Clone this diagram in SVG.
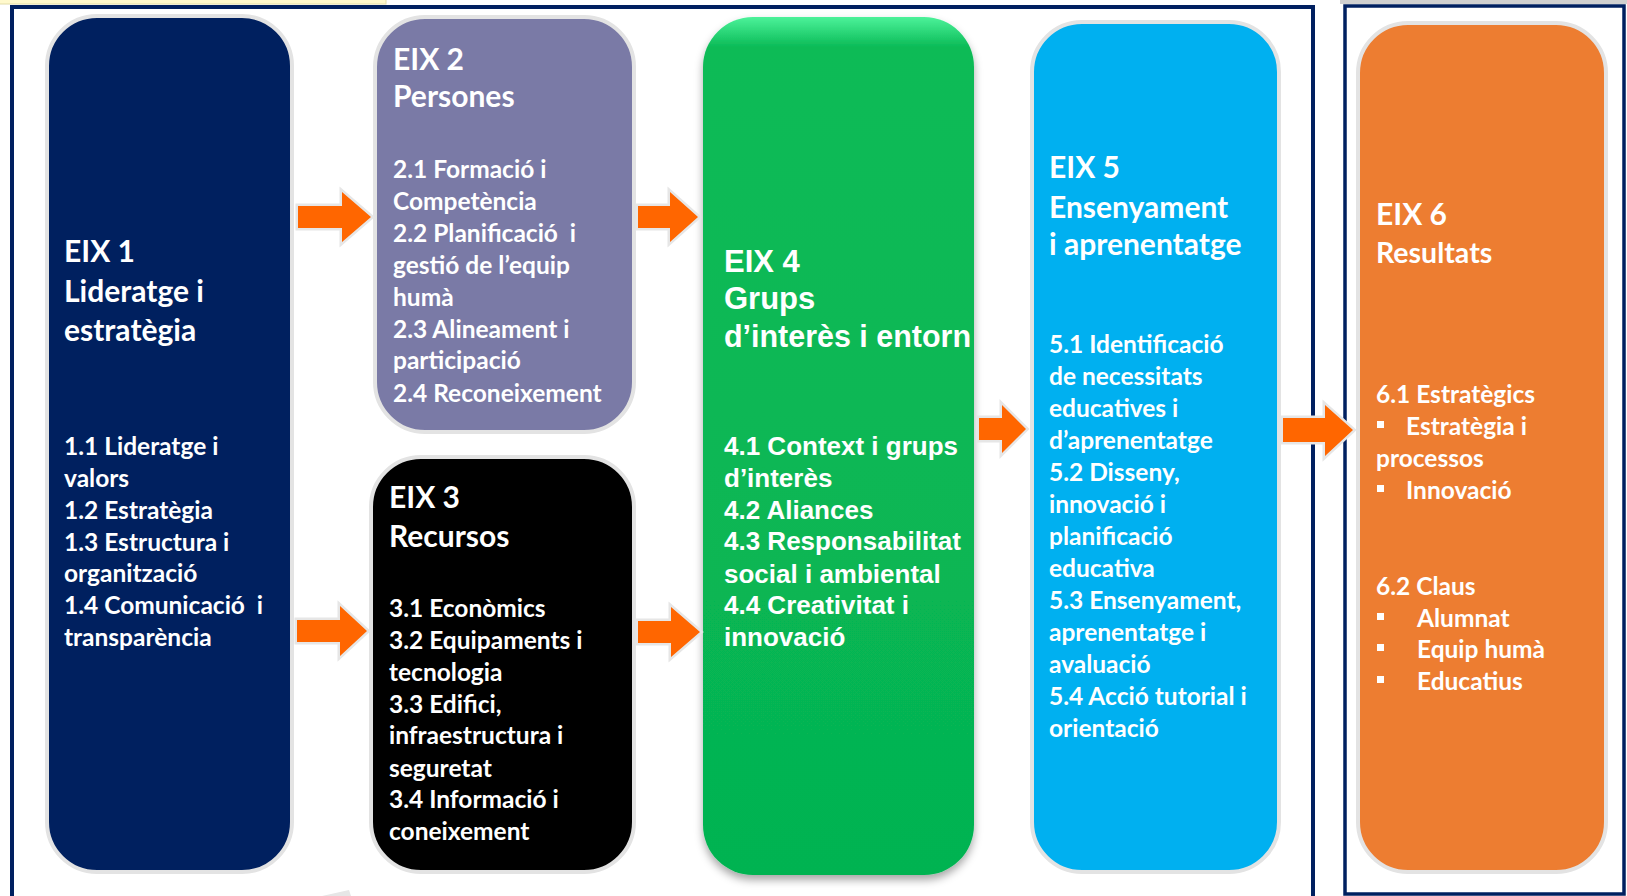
<svg xmlns="http://www.w3.org/2000/svg" width="1627" height="896" viewBox="0 0 1627 896">
<defs>
<linearGradient id="gGreen" x1="0" y1="0" x2="0" y2="1">
<stop offset="0" stop-color="#4CF29A"/>
<stop offset="0.035" stop-color="#0BBB57"/>
<stop offset="1" stop-color="#05B351"/>
</linearGradient>
<filter id="shadow" x="-10%" y="-5%" width="120%" height="115%">
<feDropShadow dx="0" dy="5" stdDeviation="4" flood-color="#000" flood-opacity="0.35"/>
</filter>
</defs>
<style>
.frame{fill:none;stroke:#002060;stroke-width:4}
.box{stroke:#E3E3E3;stroke-width:4}
.h{font-family:Lato,"Liberation Sans",sans-serif;font-weight:700;font-size:30px;fill:#fff}
.b{font-family:Lato,"Liberation Sans",sans-serif;font-weight:700;font-size:24.5px;fill:#fff}
.ha{font-family:"Liberation Sans",Arial,sans-serif;font-weight:700;font-size:31px;fill:#fff}
.ba{font-family:"Liberation Sans",Arial,sans-serif;font-weight:700;font-size:26px;fill:#fff}
.arrow{fill:#FF6600;stroke:#E6E6E6;stroke-width:5;paint-order:stroke;stroke-linejoin:miter}
.bul{fill:#fff}
</style>
<rect x="0" y="0" width="1627" height="896" fill="#fff"/>
<rect x="-2" y="-4" width="388" height="8" fill="#FFF9CC" stroke="#E2DCA8" stroke-width="1"/>
<rect x="1340" y="0" width="287" height="4" fill="#D0D0D0"/>
<g id="frames">
<rect class="frame" x="12" y="7" width="1301" height="905"/>
<rect class="frame" x="1345" y="6" width="279" height="888" style="stroke-width:3.5"/>
</g>
<g id="eix1">
<rect class="box" x="47" y="16" width="245" height="856" rx="50" fill="#00205F"/>
<text class="h"><tspan x="64" y="262">EIX 1</tspan><tspan x="64" y="302">Lideratge i</tspan><tspan x="64" y="341">estratègia</tspan></text>
<text class="b" xml:space="preserve"><tspan x="64" y="455">1.1 Lideratge i</tspan><tspan x="64" y="487">valors</tspan><tspan x="64" y="519">1.2 Estratègia</tspan><tspan x="64" y="551">1.3 Estructura i</tspan><tspan x="64" y="582">organització</tspan><tspan x="64" y="614">1.4 Comunicació  i</tspan><tspan x="64" y="646">transparència</tspan></text>
</g>
<g id="eix2">
<rect class="box" x="375" y="17" width="259" height="415" rx="50" fill="#7A7AA6"/>
<text class="h"><tspan x="393" y="70">EIX 2</tspan><tspan x="393" y="107">Persones</tspan></text>
<text class="b" xml:space="preserve"><tspan x="393" y="178">2.1 Formació i</tspan><tspan x="393" y="210">Competència</tspan><tspan x="393" y="242">2.2 Planificació  i</tspan><tspan x="393" y="274">gestió de l’equip</tspan><tspan x="393" y="306">humà</tspan><tspan x="393" y="338">2.3 Alineament i</tspan><tspan x="393" y="369">participació</tspan><tspan x="393" y="402">2.4 Reconeixement</tspan></text>
</g>
<g id="eix3">
<rect class="box" x="371" y="457" width="263" height="415" rx="50" fill="#000"/>
<text class="h"><tspan x="389" y="508">EIX 3</tspan><tspan x="389" y="547">Recursos</tspan></text>
<text class="b"><tspan x="389" y="617">3.1 Econòmics</tspan><tspan x="389" y="649">3.2 Equipaments i</tspan><tspan x="389" y="681">tecnologia</tspan><tspan x="389" y="713">3.3 Edifici,</tspan><tspan x="389" y="744">infraestructura i</tspan><tspan x="389" y="777">seguretat</tspan><tspan x="389" y="808">3.4 Informació i</tspan><tspan x="389" y="840">coneixement</tspan></text>
</g>
<g id="eix4">
<rect x="703" y="17" width="271" height="858" rx="50" fill="url(#gGreen)" filter="url(#shadow)"/>
<text class="ha"><tspan x="724" y="272">EIX 4</tspan><tspan x="724" y="309">Grups</tspan></text>
<text class="ha" x="724" y="347" textLength="247" lengthAdjust="spacingAndGlyphs">d’interès i entorn</text>
<text class="ba"><tspan x="724" y="455">4.1 Context i grups</tspan><tspan x="724" y="487">d’interès</tspan><tspan x="724" y="519">4.2 Aliances</tspan><tspan x="724" y="550">4.3 Responsabilitat</tspan><tspan x="724" y="583">social i ambiental</tspan><tspan x="724" y="614">4.4 Creativitat i</tspan><tspan x="724" y="646">innovació</tspan></text>
</g>
<g id="eix5">
<rect class="box" x="1032" y="22" width="247" height="850" rx="50" fill="#00B0F0"/>
<text class="h"><tspan x="1049" y="178">EIX 5</tspan><tspan x="1049" y="218">Ensenyament</tspan><tspan x="1049" y="255">i aprenentatge</tspan></text>
<text class="b"><tspan x="1049" y="353">5.1 Identificació</tspan><tspan x="1049" y="385">de necessitats</tspan><tspan x="1049" y="417">educatives i</tspan><tspan x="1049" y="449">d’aprenentatge</tspan><tspan x="1049" y="481">5.2 Disseny,</tspan><tspan x="1049" y="513">innovació i</tspan><tspan x="1049" y="545">planificació</tspan><tspan x="1049" y="577">educativa</tspan><tspan x="1049" y="609">5.3 Ensenyament,</tspan><tspan x="1049" y="641">aprenentatge i</tspan><tspan x="1049" y="673">avaluació</tspan><tspan x="1049" y="705">5.4 Acció tutorial i</tspan><tspan x="1049" y="737">orientació</tspan></text>
</g>
<g id="eix6">
<rect class="box" x="1358" y="23" width="248" height="849" rx="50" fill="#ED7D31"/>
<text class="h"><tspan x="1376" y="225">EIX 6</tspan><tspan x="1376" y="263" style="font-size:28.5px">Resultats</tspan></text>
<text class="b"><tspan x="1376" y="403">6.1 Estratègics</tspan><tspan x="1406" y="435">Estratègia i</tspan><tspan x="1376" y="467">processos</tspan><tspan x="1406" y="499">Innovació</tspan><tspan x="1376" y="595">6.2 Claus</tspan><tspan x="1417" y="627">Alumnat</tspan><tspan x="1417" y="658">Equip humà</tspan><tspan x="1417" y="690">Educatius</tspan></text>
<rect class="bul" x="1377" y="421" width="7" height="7"/>
<rect class="bul" x="1377" y="485" width="7" height="7"/>
<rect class="bul" x="1377" y="613" width="7" height="7"/>
<rect class="bul" x="1377" y="644" width="7" height="7"/>
<rect class="bul" x="1377" y="676" width="7" height="7"/>
</g>
<g id="connectors">
<polygon class="arrow" points="298,206 342,206 342,192 371,217 342,242 342,228 298,228"/>
<polygon class="arrow" points="297,620 340,620 340,606 367,631 340,656 340,642 297,642"/>
<polygon class="arrow" points="638,206 670,206 670,192 698,217 670,242 670,228 638,228"/>
<polygon class="arrow" points="638,621 671,621 671,607 700,632 671,657 671,643 638,643"/>
<polygon class="arrow" points="979,418 1002,418 1002,405 1026,429 1002,453 1002,440 979,440"/>
<polygon class="arrow" points="1283,418 1325,418 1325,405 1353,430 1325,456 1325,442 1283,442"/>
<polygon points="322,896 349,890 351,896" fill="#E6E6E6"/>
</g>
</svg>
